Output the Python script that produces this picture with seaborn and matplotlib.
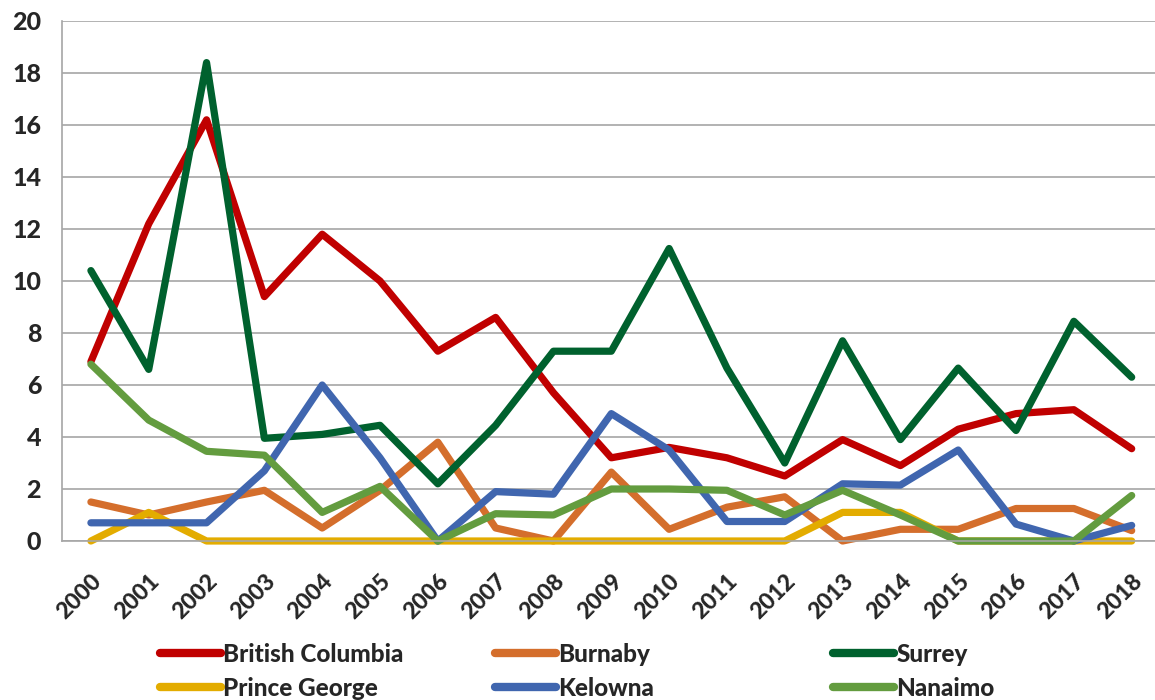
import matplotlib
matplotlib.use("Agg")
import matplotlib.pyplot as plt
import seaborn as sns
import pandas as pd

years = list(range(2000, 2019))
british_columbia = [6.9, 12.2, 16.2, 9.4, 11.8, 10.0, 7.3, 8.6, 5.7, 3.2, 3.6, 3.2, 2.5, 3.9, 2.9, 4.3, 4.9, 5.05, 3.55]
burnaby = [1.5, 1.0, 1.5, 1.95, 0.5, 1.95, 3.8, 0.5, 0.0, 2.65, 0.45, 1.3, 1.7, 0.0, 0.45, 0.45, 1.25, 1.25, 0.4]
surrey = [10.4, 6.6, 18.4, 3.95, 4.1, 4.45, 2.2, 4.45, 7.3, 7.3, 11.25, 6.65, 3.0, 7.7, 3.9, 6.65, 4.25, 8.45, 6.3]
prince_george = [0.0, 1.1, 0.0, 0.0, 0.0, 0.0, 0.0, 0.0, 0.0, 0.0, 0.0, 0.0, 0.0, 1.1, 1.1, 0.0, 0.0, 0.0, 0.0]
kelowna = [0.7, 0.7, 0.7, 2.7, 6.0, 3.2, 0.0, 1.9, 1.8, 4.9, 3.5, 0.75, 0.75, 2.2, 2.15, 3.5, 0.65, 0.0, 0.6]
nanaimo = [6.8, 4.65, 3.45, 3.3, 1.1, 2.1, 0.0, 1.05, 1.0, 2.0, 2.0, 1.95, 1.0, 1.95, 1.0, 0.0, 0.0, 0.0, 1.75]

series_names = ["British Columbia", "Burnaby", "Surrey", "Prince George", "Kelowna", "Nanaimo"]
series_values = [british_columbia, burnaby, surrey, prince_george, kelowna, nanaimo]
colors = ["#C00000", "#D46E2C", "#00612E", "#E3AC00", "#4066AF", "#639C3F"]
y_ticks = list(range(0, 21, 2))

rows = []
for name, vals in zip(series_names, series_values):
    for i, v in enumerate(vals):
        rows.append({"idx": i, "value": v, "series": name})
df = pd.DataFrame(rows)

sns.set_theme(style="white")
plt.rcParams["font.family"] = ["Lato", "DejaVu Sans"]
W = 900

fig = plt.figure(figsize=(11.55, 7.0), dpi=100)
ax = fig.add_axes([62 / 1155, (700 - 541) / 700, (1160.6 - 62) / 1155, 520 / 700])

sns.lineplot(data=df, x="idx", y="value", hue="series", hue_order=series_names,
             palette=dict(zip(series_names, colors)), linewidth=5.2, ax=ax,
             legend=False, estimator=None, sort=False)
for line in ax.get_lines():
    line.set_solid_capstyle("round")
    line.set_solid_joinstyle("round")
    line.set_clip_on(False)

ax.set_xlim(-0.5, 18.5)
ax.set_ylim(0, 20)
ax.set_yticks(y_ticks)
ax.set_yticklabels([str(t) for t in y_ticks], fontsize=18, fontweight=W)
ax.set_xticks(range(len(years)))
ax.set_xticklabels([str(y) for y in years], rotation=45, ha="right", va="top",
                   rotation_mode="anchor", fontsize=16.5, fontweight=W)
ax.set_xticks([i + 0.5 for i in range(-1, len(years))], minor=True)
ax.tick_params(axis="x", which="major", length=0, pad=21)
ax.tick_params(axis="x", which="minor", length=9, width=1, color="#A6A6A6", direction="out")
ax.tick_params(axis="y", which="major", length=9, width=1, color="#A6A6A6", direction="out", pad=6)
ax.set_xlabel("")
ax.set_ylabel("")
ax.grid(axis="y", color="#A6A6A6", linewidth=1.2)
ax.set_axisbelow(True)
for s in ["top", "right"]:
    ax.spines[s].set_visible(False)
for s in ["left", "bottom"]:
    ax.spines[s].set_color("#A6A6A6")
    ax.spines[s].set_linewidth(1.2)

lines = ax.get_lines()
handles = dict(zip(series_names, lines[:len(series_names)]))
cols = [("British Columbia", "Prince George"), ("Burnaby", "Kelowna"), ("Surrey", "Nanaimo")]
xs = [160, 495, 833]
for x0, pair in zip(xs, cols):
    leg = fig.legend([handles[p] for p in pair], list(pair), loc="upper left",
                     bbox_to_anchor=(x0 / 1155, 1 - 643 / 700), frameon=False,
                     prop={"size": 17.5, "weight": W}, handlelength=2.5,
                     handletextpad=0.1, labelspacing=0.45, borderaxespad=0, borderpad=0)
    for lh in leg.get_lines():
        lh.set_linewidth(6)
        lh.set_solid_capstyle("round")

fig.savefig("out.png", dpi=100)
